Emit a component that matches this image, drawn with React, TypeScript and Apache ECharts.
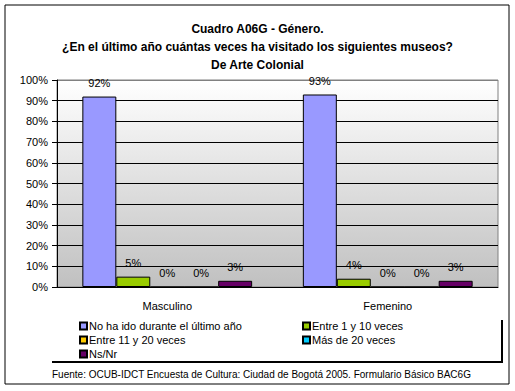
import React, { useEffect, useRef } from "react";
import * as echarts from "echarts";

const categories = ["Masculino", "Femenino"];
const seriesNames = [
  "No ha ido durante el último año",
  "Entre 1 y 10 veces",
  "Entre 11 y 20 veces",
  "Más de 20 veces",
  "Ns/Nr",
];
const noHaIdo = [92, 93];
const entre1y10 = [5, 4];
const entre11y20 = [0, 0];
const masDe20 = [0, 0];
const nsNr = [3, 3];
const seriesValues = [noHaIdo, entre1y10, entre11y20, masDe20, nsNr];
const colors = ["#9999FF", "#99CC00", "#FFCC00", "#00CCFF", "#660066"];
const titleText =
  "Cuadro A06G - Género.\n¿En el último año cuántas veces ha visitado los siguientes museos?\nDe Arte Colonial";
const footerText =
  "Fuente: OCUB-IDCT Encuesta de Cultura: Ciudad de Bogotá 2005. Formulario Básico BAC6G";

const FONT = "Arial, 'Liberation Sans', sans-serif";

export default function App() {
  const ref = useRef<HTMLDivElement>(null);
  useEffect(() => {
    if (!ref.current) return;
    const chart = echarts.init(ref.current, null, { renderer: "svg" });
    const splitColors = Array.from({ length: 11 }, (_, i) => (i === 10 ? "#808080" : "#000000"));
    const legendText = {
      fontFamily: FONT,
      fontSize: 11,
      color: "#000",
      lineHeight: 12,
      padding: [0, 0, 0, -3],
    };
    chart.setOption({
      animation: false,
      backgroundColor: "#ffffff",
      textStyle: { fontFamily: FONT },
      title: {
        text: titleText,
        left: "center",
        top: 15,
        textStyle: {
          fontFamily: FONT,
          fontSize: 12,
          fontWeight: "bold",
          color: "#000",
          lineHeight: 18,
        },
      },
      legend: [
        {
          data: [seriesNames[0], seriesNames[2], seriesNames[4]],
          orient: "vertical",
          left: 79,
          top: 320,
          padding: 0,
          itemWidth: 7,
          itemHeight: 7,
          itemGap: 2,
          icon: "rect",
          textStyle: legendText,
        },
        {
          data: [seriesNames[1], seriesNames[3]],
          orient: "vertical",
          left: 302,
          top: 320,
          padding: 0,
          itemWidth: 7,
          itemHeight: 7,
          itemGap: 2,
          icon: "rect",
          textStyle: legendText,
        },
      ],
      grid: {
        left: 57,
        right: 17,
        top: 80,
        bottom: 104,
        show: true,
        borderColor: "#808080",
        borderWidth: 1,
        backgroundColor: {
          type: "linear",
          x: 0,
          y: 0,
          x2: 0,
          y2: 1,
          colorStops: [
            { offset: 0, color: "#ffffff" },
            { offset: 1, color: "#c0c0c0" },
          ],
        },
      },
      xAxis: {
        type: "category",
        data: categories,
        axisLine: { lineStyle: { color: "#000", width: 1 } },
        axisTick: { length: 5, lineStyle: { color: "#000" } },
        axisLabel: { fontFamily: FONT, fontSize: 11, color: "#000", margin: 13 },
      },
      yAxis: {
        type: "value",
        min: 0,
        max: 100,
        interval: 10,
        axisLine: { show: true, lineStyle: { color: "#000", width: 1 } },
        axisTick: { show: true, length: 5, lineStyle: { color: "#000" } },
        axisLabel: {
          formatter: "{value}%",
          fontFamily: FONT,
          fontSize: 11,
          color: "#000",
          margin: 9,
        },
        splitLine: { show: true, lineStyle: { color: splitColors, width: 1 } },
      },
      series: seriesNames.map((name, i) => ({
        name,
        type: "bar",
        data: seriesValues[i],
        barGap: "0%",
        barCategoryGap: "23%",
        itemStyle: { color: colors[i], borderColor: "#000", borderWidth: 1 },
        label: {
          show: true,
          position: "top",
          distance: 8,
          formatter: "{c}%",
          fontFamily: FONT,
          fontSize: 11,
          color: "#000",
        },
      })),
      graphic: [
        {
          type: "rect",
          shape: { x: 5, y: 5, width: 504, height: 379 },
          style: { fill: "none", stroke: "#000", lineWidth: 1 },
          silent: true,
        },
        {
          type: "polyline",
          shape: { points: [[52, 362], [502, 362], [502, 320]] },
          style: { fill: "none", stroke: "#000", lineWidth: 2 },
          silent: true,
        },
        {
          type: "text",
          x: 52,
          y: 374,
          style: {
            text: footerText,
            fontFamily: FONT,
            fontSize: 10,
            fill: "#000",
            verticalAlign: "middle",
          },
          silent: true,
        },
      ],
    });
    return () => chart.dispose();
  }, []);
  return (
    <div
      ref={ref}
      style={{ position: "fixed", left: 0, top: 0, width: 515, height: 391 }}
    />
  );
}
